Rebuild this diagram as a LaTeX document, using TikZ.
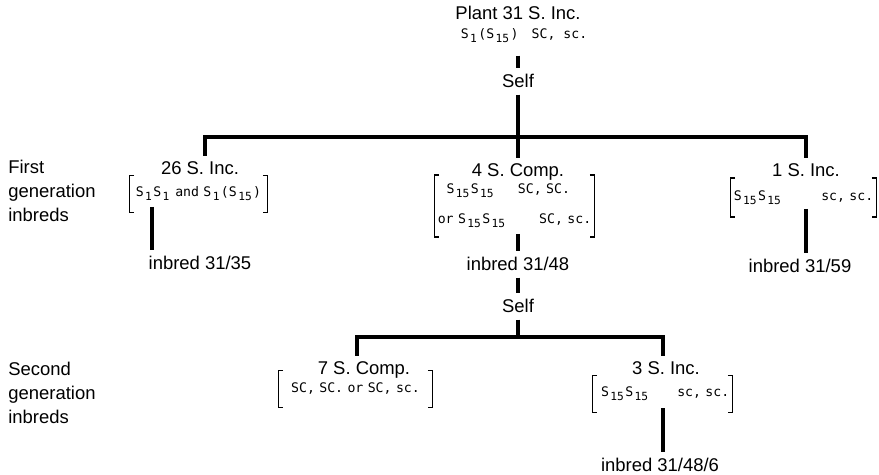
\documentclass[tikz,border=0pt]{standalone}
\usepackage{fontspec}
\setmainfont{Liberation Sans}
\newfontfamily\genofont{DejaVu Sans Mono}
\usetikzlibrary{positioning}

\newcommand{\lowidx}[1]{\hspace{0.8pt}\raisebox{-2.2pt}{\fontsize{6.4}{6}\selectfont#1}\hspace{0.8pt}}
\newcommand{\brackets}[1]{%
  \draw[bracket] ([xshift=2.5pt]#1.north west) -- (#1.north west) -- (#1.south west) -- ([xshift=2.5pt]#1.south west);
  \draw[bracket] ([xshift=-2.5pt]#1.north east) -- (#1.north east) -- (#1.south east) -- ([xshift=-2.5pt]#1.south east);}

\tikzset{
  stem/.style={line width=2pt},
  bracket/.style={line width=0.8pt},
  title/.style={font=\fontsize{10.5}{12}\selectfont, inner sep=3.5pt, anchor=base},
  rowlabel/.style={font=\fontsize{10.5}{13.6}\selectfont, align=left, inner sep=0pt, anchor=west},
  geno/.style={font=\genofont\fontsize{7.5}{9}\selectfont, inner sep=0pt},
  genobox/.style={geno, font=\genofont\fontsize{7.5}{17}\selectfont, inner xsep=1.5pt, inner ysep=0pt}
}

\begin{document}
\begin{tikzpicture}[x=0.02cm, y=-0.02cm]
  \useasboundingbox (0,0) rectangle (879,475);
  % Plant and first selfing:
  \node[title] (plant) at (518,20) {Plant 31 S. Inc.};
  \node[geno, anchor=base] (plantg) at (524,39) {S\lowidx{1}(S\lowidx{15})\hspace{1em}SC, sc.};
  \node[title] (self1) at (518,88) {Self};
  \coordinate (j1) at (518,137);
  \coordinate (l1) at (205,137);
  \coordinate (r1) at (806,137);
  \draw[stem, shorten <=7pt] (plantg.south -| self1) -- (self1.north);
  \draw[stem] (self1.south) -- (j1);

  % Row labels:
  \node[rowlabel] (gen1) at (8,191) {First\\generation\\inbreds};
  \node[rowlabel] (gen2) at (8,393) {Second\\generation\\inbreds};

  % First generation:
  \node[title] (i26) at (200,175) {26 S. Inc.};
  \node[genobox, text width=2.63cm, minimum height=0.72cm, align=center] (g26) at (198.5,194)
    {S\lowidx{1}S\lowidx{1} and S\lowidx{1}(S\lowidx{15})};
  \node[title] (c4) at (518,177) {4 S. Comp.};
  \node[genobox, text width=3.07cm, minimum height=1.22cm, align=left] (g4) at (514.5,206)
    {\hspace{5pt}S\lowidx{15}S\lowidx{15}\hspace{13pt}SC, SC.\\or S\lowidx{15}S\lowidx{15}\hfill SC, sc.};
  \node[title] (i1) at (806,177) {1 S. Inc.};
  \node[genobox, text width=2.79cm, minimum height=0.76cm, align=left] (g1) at (803.5,197.5)
    {S\lowidx{15}S\lowidx{15}\hfill sc, sc.};
  \brackets{g26}
  \brackets{g4}
  \brackets{g1}
  \draw[stem] (l1 |- i26.north) -- (l1) -- (r1) -- (r1 |- i1.north);
  \draw[stem] (j1) -- (j1 |- c4.north);

  % First generation inbreds:
  \node[title] (inb35) at (200,270) {inbred 31/35};
  \node[title] (inb48) at (518,271) {inbred 31/48};
  \node[title] (inb59) at (800,273) {inbred 31/59};
  \coordinate (s35) at (152,207);
  \draw[stem] (s35) -- (s35 |- inb35.north);
  \draw[stem] (g4.south -| j1) ++(0,-3) -- (inb48.north);
  \draw[stem] (g1.south -| r1) ++(0,-8) -- (r1 |- inb59.north);

  % Second selfing:
  \node[title] (self2) at (518,313) {Self};
  \coordinate (j2) at (518,337);
  \coordinate (l2) at (357,337);
  \coordinate (r2) at (663,337);
  \draw[stem] (inb48.south) -- (self2.north);
  \draw[stem] (self2.south) -- (j2);

  % Second generation:
  \node[title] (c7) at (364,375) {7 S. Comp.};
  \node[genobox, text width=2.95cm, minimum height=0.72cm, align=center] (g7) at (355.5,389)
    {SC, SC. or SC, sc.};
  \node[title] (i3) at (666,375) {3 S. Inc.};
  \node[genobox, text width=2.67cm, minimum height=0.72cm, align=left] (g3) at (662.5,394)
    {\hspace{3pt}S\lowidx{15}S\lowidx{15}\hfill sc, sc.\hspace{6pt}};
  \brackets{g7}
  \brackets{g3}
  \draw[stem] (l2 |- c7.north) -- (l2) -- (r2) -- (r2 |- i3.north);

  % Second generation inbred:
  \node[title] (inb6) at (660,472) {inbred 31/48/6};
  \draw[stem] (g3.south -| r2) ++(0,-4) -- (r2 |- inb6.north);
\end{tikzpicture}
\end{document}
